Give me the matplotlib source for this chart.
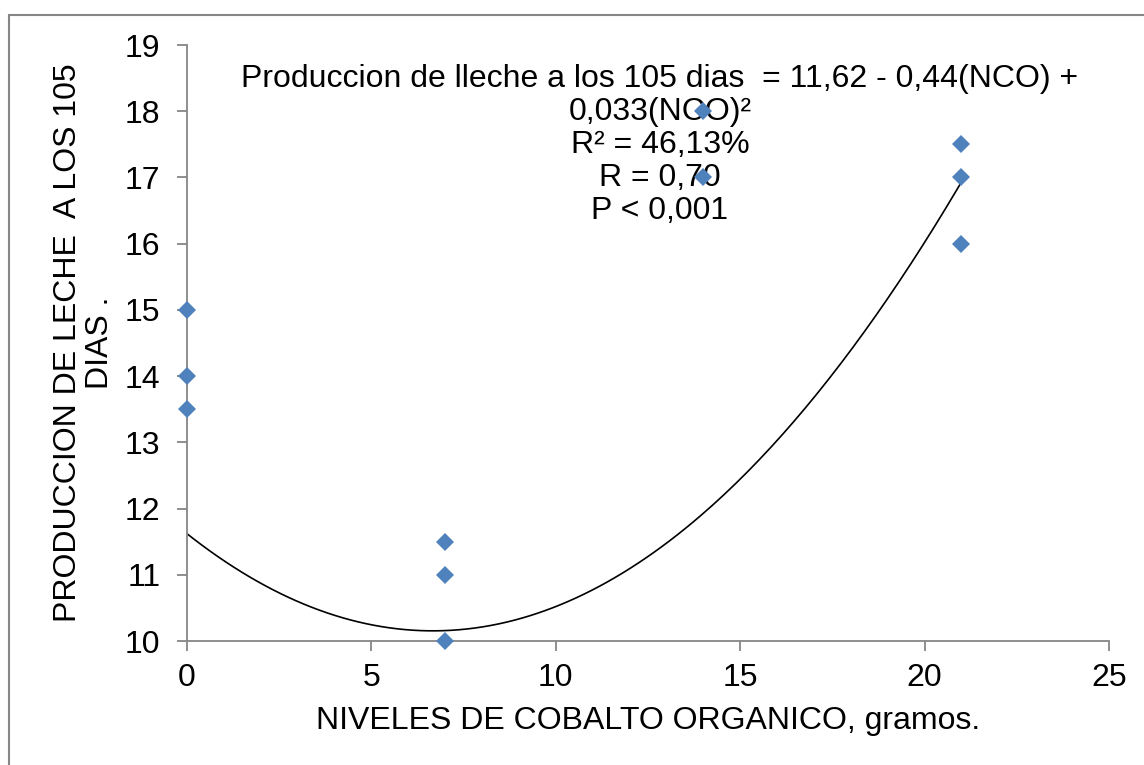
import numpy as np
import matplotlib
matplotlib.use('Agg')
import matplotlib.pyplot as plt
import matplotlib.patches as patches

plt.rcParams['font.family'] = ['Liberation Sans', 'DejaVu Sans']

# niveles de cobalto (g) y produccion de leche a los 105 dias
nivelesCobalto = [0, 0, 0, 7, 7, 7, 14, 14, 21, 21, 21]
produccion = [15, 14, 13.5, 11.5, 11, 10, 18, 17, 17.5, 17, 16]

# coeficientes de la tendencia polinomica
coefs = [11.62, -0.44, 0.033]

ecuacion = ('Produccion de lleche a los 105 dias  = 11,62 - 0,44(NCO) +\n'
			'0,033(NCO)\u00b2\nR\u00b2 = 46,13%\nR = 0,70\nP < 0,001')
xLabel = 'NIVELES DE COBALTO ORGANICO, gramos.'
yLabel = 'PRODUCCION DE LECHE  A LOS 105\nDIAS .'

fig = plt.figure(figsize = (11.44, 7.65), dpi = 100)
fig.patches.append(patches.Rectangle(
	(9 / 1144, -0.1), 1.1, 1.1 - 15 / 765,
	transform = fig.transFigure, fill = False, edgecolor = '#868686', linewidth = 1.5))

ax = fig.add_axes([187 / 1144, 1 - 641 / 765, (1109 - 187) / 1144, (641 - 45) / 765])

xs = np.linspace(0, 21, 200)
ys = coefs[0] + coefs[1] * xs + coefs[2] * xs ** 2
ax.plot(xs, ys, color = 'black', linewidth = 1.2, zorder = 2)
ax.plot(nivelesCobalto, produccion, linestyle = 'None', marker = 'D', markersize = 9,
		color = '#4F81BD', markeredgewidth = 0, zorder = 3, clip_on = False)

ax.set_xlim(0, 25)
ax.set_ylim(10, 19)
ax.set_xticks(range(0, 26, 5))
ax.set_yticks(range(10, 20))

for side in ['top', 'right']:
	ax.spines[side].set_visible(False)
for side in ['left', 'bottom']:
	ax.spines[side].set_color('#868686')
	ax.spines[side].set_linewidth(1.3)
ax.tick_params(direction = 'out', length = 7, width = 1.3, color = '#868686', labelsize = 23)
ax.tick_params(axis = 'y', pad = 12)
ax.tick_params(axis = 'x', pad = 9)

ax.set_xlabel(xLabel, fontsize = 23, labelpad = 9)
ax.set_ylabel(yLabel, fontsize = 23, labelpad = 7, linespacing = 1.1)

ax.text(660, 765 - 145, ecuacion, transform = None, fontsize = 23, ha = 'center', va = 'center',
		multialignment = 'center', linespacing = 1.13, zorder = 1)

fig.savefig('out.png', dpi = 100)
